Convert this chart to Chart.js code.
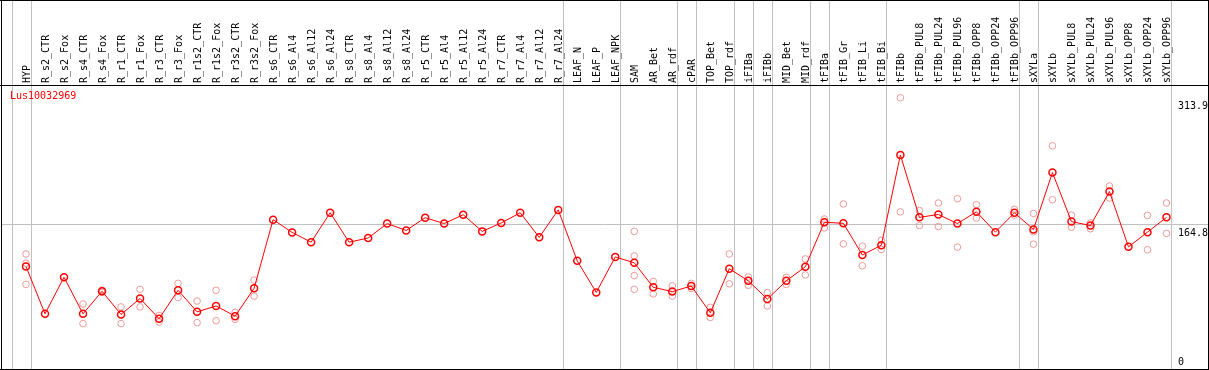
<!DOCTYPE html>
<html>
<head>
<meta charset="utf-8">
<title>Lus10032969</title>
<script src="https://cdn.jsdelivr.net/npm/chart.js@4.4.0/dist/chart.umd.min.js"></script>
<style>
    html, body { margin: 0; padding: 0; background: #fff; overflow: hidden; }
    #wrap { width: 1209px; height: 370px; }
</style>
</head>
<body>
<div id="wrap"><canvas id="expChart" width="1209" height="370"></canvas></div>
<script>
// --- Data ---
const geneName = 'Lus10032969';

const categories = [
    'HYP', 'R_s2_CTR', 'R_s2_Fox', 'R_s4_CTR', 'R_s4_Fox', 'R_r1_CTR', 'R_r1_Fox',
    'R_r3_CTR', 'R_r3_Fox', 'R_r1s2_CTR', 'R_r1s2_Fox', 'R_r3s2_CTR', 'R_r3s2_Fox',
    'R_s6_CTR', 'R_s6_Al4', 'R_s6_Al12', 'R_s6_Al24', 'R_s8_CTR', 'R_s8_Al4', 'R_s8_Al12',
    'R_s8_Al24', 'R_r5_CTR', 'R_r5_Al4', 'R_r5_Al12', 'R_r5_Al24', 'R_r7_CTR', 'R_r7_Al4',
    'R_r7_Al12', 'R_r7_Al24', 'LEAF_N', 'LEAF_P', 'LEAF_NPK', 'SAM', 'AR_Bet', 'AR_rdf',
    'cPAR', 'TOP_Bet', 'TOP_rdf', 'iFIBa', 'iFIBb', 'MID_Bet', 'MID_rdf', 'tFIBa',
    'tFIB_Gr', 'tFIB_Li', 'tFIB_Bi', 'tFIBb', 'tFIBb_PUL8', 'tFIBb_PUL24', 'tFIBb_PUL96',
    'tFIBb_OPP8', 'tFIBb_OPP24', 'tFIBb_OPP96', 'sXYLa', 'sXYLb', 'sXYLb_PUL8',
    'sXYLb_PUL24', 'sXYLb_PUL96', 'sXYLb_OPP8', 'sXYLb_OPP24', 'sXYLb_OPP96'
];

// mean expression per sample
const meanValues = [
    115.4, 59.7, 102.7, 59.7, 86.2, 58.9, 77.7, 53.9, 87.4, 62.0, 68.9, 56.9, 89.7,
    170.5, 155.5, 144.0, 178.6, 144.0, 148.9, 165.9, 157.8, 172.8, 165.9, 176.3, 156.7,
    166.6, 178.6, 149.7, 182.0,
    122.0, 84.8, 126.6, 119.7, 90.9, 85.8, 92.4, 60.8, 112.8, 98.5, 77.0, 98.5, 115.1,
    167.4, 166.2, 128.9, 140.5,
    246.7, 173.2, 176.6, 165.9, 179.7, 155.8, 178.6, 159.0, 225.9, 168.2, 163.6, 203.5,
    138.5, 155.8, 173.2
];

// individual replicates per sample (same order as categories)
const replicates = [
    [130.1, 119.3, 94.3], [], [], [71.2, 48.1], [87.5, 85.0], [67.8, 48.1], [88.5, 67.8],
    [57.7, 50.0], [95.5, 78.8], [74.7, 49.3], [87.4, 51.6], [61.5, 53.1], [99.3, 80.5],
    [], [], [], [], [], [], [], [], [], [], [], [], [], [], [], [],
    [], [], [], [156.7, 127.8, 104.7, 88.5], [97.8, 83.1], [92.4, 80.5],
    [95.5, 89.7], [67.3, 55.4], [130.1, 95.0], [103.1, 93.2], [84.6, 68.9], [102.7, 94.3],
    [124.3, 105.4], [171.2, 160.8], [189.0, 142.0], [139.3, 116.2], [146.3, 135.4],
    [313.9, 179.7], [181.2, 163.6], [190.1, 162.4], [195.1, 138.2], [188.2, 172.4], [],
    [182.7, 175.8], [177.8, 156.2, 141.6], [257.4, 193.9], [175.8, 161.6], [166.6, 159.7],
    [210.1, 195.9], [], [175.5, 135.1], [190.1, 154.3]
];

const yTickValues = [0, 164.8, 313.9];
const refLineValue = 164.8;
const yMax = 329;

// separators are drawn right after these sample indexes
const groupBreaks = [-1, 0, 28, 31, 34, 35, 37, 38, 39, 41, 42, 45, 52, 53, 60];

// build the replicate points (x = category label)
const replicatePoints = [];
replicates.forEach((reps, i) => {
    reps.forEach(v => replicatePoints.push({ x: categories[i], y: v }));
});

Chart.defaults.font.family = "'DejaVu Sans Mono', monospace";
Chart.defaults.font.size = 10;
Chart.defaults.color = '#000';

// frame, separators, ref line, y labels and gene name
const framePlugin = {
    id: 'frame',
    beforeDraw: (chart) => {
        const { ctx, width, height } = chart;
        ctx.save();
        ctx.fillStyle = '#fff';
        ctx.fillRect(0, 0, width, height);
        ctx.restore();
    },
    beforeDatasetsDraw: (chart) => {
        const { ctx, scales: { x, y }, width } = chart;
        ctx.save();
        ctx.strokeStyle = '#c0c0c0';
        ctx.lineWidth = 1;
        groupBreaks.forEach(i => {
            const px = Math.round(x.getPixelForValue(i) + 4.6) + 0.5;
            ctx.beginPath();
            ctx.moveTo(px, 0);
            ctx.lineTo(px, 369);
            ctx.stroke();
        });
        const gy = Math.round(y.getPixelForValue(refLineValue)) + 0.5;
        ctx.beginPath();
        ctx.moveTo(1, gy);
        ctx.lineTo(width - 1, gy);
        ctx.stroke();
        ctx.restore();
    },
    afterDraw: (chart) => {
        const { ctx, scales: { y }, width, height } = chart;
        ctx.save();
        ctx.fillStyle = '#000';
        ctx.fillRect(0, 0, width, 1);
        ctx.fillRect(0, 85, width, 1);
        ctx.fillRect(0, height - 1, width, 1);
        ctx.fillRect(1, 0, 1, height);
        ctx.fillRect(width - 1, 0, 1, height);

        ctx.font = "10px 'DejaVu Sans Mono', monospace";
        ctx.textAlign = 'left';
        ctx.textBaseline = 'middle';
        yTickValues.forEach(v => {
            const py = Math.min(y.getPixelForValue(v) + 9, 362);
            ctx.fillText(String(v), 1178, py);
        });

        ctx.fillStyle = '#ff0000';
        ctx.fillText(geneName, 10, 96);
        ctx.restore();
    }
};

const ctx = document.getElementById('expChart').getContext('2d');
new Chart(ctx, {
    type: 'line',
    plugins: [framePlugin],
    data: {
        labels: categories,
        datasets: [
            {
                label: 'mean',
                data: meanValues,
                borderColor: '#ff0000',
                borderWidth: 1,
                tension: 0,
                pointRadius: 3.5,
                pointBorderWidth: 1.5,
                pointBorderColor: '#ff0000',
                pointBackgroundColor: 'rgba(0,0,0,0)'
            },
            {
                label: 'replicates',
                data: replicatePoints,
                showLine: false,
                pointRadius: 3.3,
                pointBorderWidth: 1,
                pointBorderColor: '#ee9a9a',
                pointBackgroundColor: 'rgba(0,0,0,0)'
            }
        ]
    },
    options: {
        responsive: false,
        animation: false,
        devicePixelRatio: 1,
        layout: { padding: { left: 16.5, right: 33, top: 0, bottom: 0 } },
        plugins: {
            legend: { display: false },
            tooltip: { enabled: false }
        },
        scales: {
            x: {
                type: 'category',
                position: 'top',
                offset: true,
                grid: { display: false, drawTicks: false },
                border: { display: false },
                ticks: {
                    autoSkip: false,
                    minRotation: 90,
                    maxRotation: 90,
                    padding: 2,
                    labelOffset: 13,
                    font: { size: 10 }
                },
                afterFit: (axis) => { axis.height = 85; }
            },
            y: {
                display: false,
                min: 0,
                max: yMax
            }
        }
    }
});
</script>
</body>
</html>
